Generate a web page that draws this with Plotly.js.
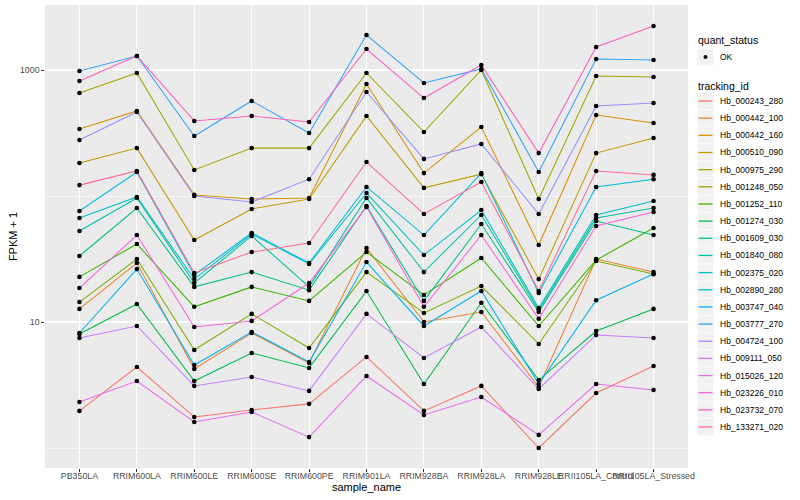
<!DOCTYPE html>
<html><head><meta charset="utf-8">
<script src="https://cdn.plot.ly/plotly-3.0.1.min.js"></script>
<style>html,body{margin:0;padding:0;background:#fff}#chart{width:800px;height:500px}</style>
</head><body><div id="chart"></div>
<script>
// x categories
const sampleNames = ["PB350LA","RRIM600LA","RRIM600LE","RRIM600SE","RRIM600PE","RRIM901LA","RRIM928BA","RRIM928LA","RRIM928LE","RRII105LA_Control","RRII105LA_Stressed"];

// FPKM + 1 per tracking_id
const Hb_000243_280 = [1.97, 4.39, 1.76, 2.00, 2.24, 5.28, 1.97, 3.11, 1.00, 2.73, 4.47];
const Hb_000442_100 = [12.7, 29.4, 4.24, 8.18, 4.73, 38.7, 10.0, 12.0, 3.05, 31.6, 24.9];
const Hb_000442_160 = [340, 473, 102, 94.7, 96.4, 774, 152, 353, 40.9, 439, 380];
const Hb_000510_090 = [183, 240, 44.7, 78.9, 94.7, 432, 116, 149, 21.9, 219, 289];
const Hb_000975_290 = [657, 947, 161, 240, 240, 947, 322, 1000, 94.7, 896, 880];
const Hb_001248_050 = [14.4, 31.6, 5.99, 11.6, 6.22, 24.9, 11.8, 19.3, 6.69, 30.5, 24.0];
const Hb_001252_110 = [22.8, 41.6, 13.2, 19.0, 14.7, 35.9, 16.4, 32.2, 9.30, 31.0, 55.7];
const Hb_001274_030 = [8.03, 13.9, 3.40, 5.68, 4.32, 17.6, 3.22, 14.2, 3.46, 8.48, 12.7];
const Hb_001609_030 = [33.4, 80.3, 19.0, 24.9, 17.9, 83.3, 14.7, 59.9, 12.0, 63.3, 49.0];
const Hb_001840_080 = [52.8, 96.4, 20.4, 48.2, 19.0, 96.4, 24.9, 70.7, 12.45, 66.9, 80.3];
const Hb_002375_020 = [66.9, 98.2, 21.9, 49.9, 28.9, 105.6, 34.0, 77.4, 12.9, 70.7, 91.3];
const Hb_002890_280 = [76.0, 155, 23.6, 50.9, 29.4, 118, 49.0, 152, 17.0, 118, 136];
const Hb_003747_040 = [8.18, 26.3, 4.56, 8.33, 4.82, 29.9, 9.30, 17.6, 3.22, 14.9, 24.0];
const Hb_003777_270 = [982, 1292, 299, 568, 316, 1896, 789, 1019, 155, 1223, 1201];
const Hb_004724_100 = [278, 464, 100, 89.6, 136, 669, 197, 259, 72.0, 518, 547];
const Hb_009111_050 = [7.47, 9.30, 3.11, 3.66, 2.84, 11.6, 5.18, 9.13, 2.94, 7.89, 7.47];
const Hb_015026_120 = [2.32, 3.40, 1.61, 1.93, 1.22, 3.73, 1.83, 2.54, 1.27, 3.22, 2.89];
const Hb_023226_010 = [18.6, 49.0, 9.13, 10.2, 20.4, 81.8, 13.2, 49.0, 10.6, 57.8, 74.7];
const Hb_023732_070 = [818, 1292, 394, 432, 387, 1468, 599, 1096, 219, 1523, 2235];
const Hb_133271_020 = [122, 158, 24.5, 35.9, 42.4, 186, 72.0, 129, 17.6, 158, 147];

const trackingIds = ["Hb_000243_280","Hb_000442_100","Hb_000442_160","Hb_000510_090","Hb_000975_290","Hb_001248_050","Hb_001252_110","Hb_001274_030","Hb_001609_030","Hb_001840_080","Hb_002375_020","Hb_002890_280","Hb_003747_040","Hb_003777_270","Hb_004724_100","Hb_009111_050","Hb_015026_120","Hb_023226_010","Hb_023732_070","Hb_133271_020"];
const seriesValues = [Hb_000243_280, Hb_000442_100, Hb_000442_160, Hb_000510_090, Hb_000975_290, Hb_001248_050, Hb_001252_110, Hb_001274_030, Hb_001609_030, Hb_001840_080, Hb_002375_020, Hb_002890_280, Hb_003747_040, Hb_003777_270, Hb_004724_100, Hb_009111_050, Hb_015026_120, Hb_023226_010, Hb_023732_070, Hb_133271_020];
const seriesColors = ["#F8766D","#EA8331","#D89000","#C09B00","#A3A500","#7CAE00","#39B600","#00BB4E","#00BF7D","#00C1A3","#00BFC4","#00BAE0","#00B0F6","#35A2FF","#9590FF","#C77CFF","#E76BF3","#FA62DB","#FF62BC","#FF6C90"];
const quantStatus = ["OK"];
const yTickVals = [10, 1000];
const yTickText = ["10", "1000"];
const yMinorVals = [1, 100];

const FONT = "Liberation Sans, Arial, Helvetica, sans-serif";

const traces = [];
seriesValues.forEach((vals, i) => {
  traces.push({
    type: "scatter", mode: "lines", x: sampleNames, y: vals,
    name: trackingIds[i], line: {color: seriesColors[i], width: 1.05},
    showlegend: false, hoverinfo: "x+y+name"
  });
});
// all points, black, drawn on top
const px = [], py = [];
seriesValues.forEach(vals => vals.forEach((v, j) => { px.push(sampleNames[j]); py.push(v); }));
traces.push({type: "scatter", mode: "markers", x: px, y: py, name: quantStatus[0],
  marker: {color: "#000000", size: 4.6}, showlegend: false, hoverinfo: "x+y"});

// manual ggplot-like legend (pixel -> paper coordinates)
const L = 45, R = 688, T = 5, B = 468;
const toX = p => (p - L) / (R - L);
const toY = p => (B - p) / (B - T);
const shapes = [], annotations = [];
const keyX0 = 697, keyW = 17, keyH = 17.2, textX = 718;
function addText(txt, xpx, ypx, size) {
  annotations.push({text: txt, x: toX(xpx), y: toY(ypx), xref: "paper", yref: "paper",
    xanchor: "left", yanchor: "middle", showarrow: false,
    font: {family: FONT, size: size, color: "#000000"}});
}
function addKey(ycenter) {
  shapes.push({type: "rect", xref: "paper", yref: "paper",
    x0: toX(keyX0), x1: toX(keyX0 + keyW), y0: toY(ycenter + keyH / 2), y1: toY(ycenter - keyH / 2),
    fillcolor: "#F2F2F2", line: {color: "#FFFFFF", width: 0.6}});
}
addText("quant_status", 696, 40, 10.5);
addKey(57);
shapes.push({type: "circle", xref: "paper", yref: "paper",
  x0: toX(keyX0 + keyW / 2 - 2), x1: toX(keyX0 + keyW / 2 + 2), y0: toY(57 + 2), y1: toY(57 - 2),
  fillcolor: "#000000", line: {width: 0}});
addText(quantStatus[0], textX, 57, 8.5);
addText("tracking_id", 696, 86, 10.5);
trackingIds.forEach((id, i) => {
  const yc = 101 + i * 17.16;
  addKey(yc);
  shapes.push({type: "line", xref: "paper", yref: "paper",
    x0: toX(keyX0 + 1.5), x1: toX(keyX0 + keyW - 1.5), y0: toY(yc), y1: toY(yc),
    line: {color: seriesColors[i], width: 1.3}});
  addText(id, textX, yc, 8.5);
});

const layout = {
  width: 800, height: 500,
  margin: {l: L, r: 800 - R, t: T, b: 500 - B, pad: 0},
  paper_bgcolor: "#FFFFFF", plot_bgcolor: "#EBEBEB",
  font: {family: FONT, size: 9, color: "#4D4D4D"},
  showlegend: false,
  xaxis: {
    type: "category", categoryorder: "array", categoryarray: sampleNames,
    range: [-0.6, sampleNames.length - 1 + 0.6],
    showgrid: true, gridcolor: "#FFFFFF", gridwidth: 1.07, zeroline: false, showline: false,
    ticks: "outside", ticklen: 2.7, tickwidth: 1, tickcolor: "#333333", tickangle: 0,
    ticklabelstandoff: -3,
    tickfont: {family: FONT, size: 8.8, color: "#4D4D4D"},
    title: {text: "sample_name", font: {family: FONT, size: 11, color: "#000000"}, standoff: 1},
    automargin: false
  },
  yaxis: {
    type: "log", range: [-0.1587, 3.5159],
    tickmode: "array", tickvals: yTickVals, ticktext: yTickText,
    showgrid: true, gridcolor: "#FFFFFF", gridwidth: 1.07, zeroline: false, showline: false,
    ticks: "outside", ticklen: 2.7, tickwidth: 1, tickcolor: "#333333",
    tickfont: {family: FONT, size: 8.8, color: "#4D4D4D"},
    minor: {tickmode: "array", tickvals: yMinorVals, showgrid: true, gridcolor: "#FFFFFF", gridwidth: 0.53, ticks: ""},
    title: {text: "FPKM + 1", font: {family: FONT, size: 11, color: "#000000"}, standoff: 0},
    automargin: false
  },
  shapes: shapes,
  annotations: annotations
};

Plotly.newPlot("chart", traces, layout, {displayModeBar: false, staticPlot: true});
</script>
</body></html>
